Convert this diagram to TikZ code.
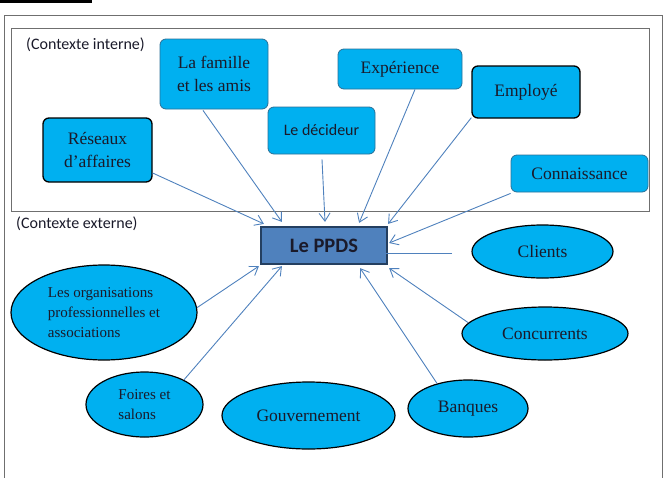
\documentclass[tikz,border=0pt]{standalone}
\usepackage{fontspec}
\setmainfont{Liberation Serif}
\newfontfamily\calib{Carlito}
\usetikzlibrary{arrows.meta,shapes.geometric}
\definecolor{cyanfill}{HTML}{00B0F0}
\definecolor{boxline}{HTML}{2B6F96}
\definecolor{ppdsfill}{HTML}{4F81BD}
\definecolor{ppdsline}{HTML}{243F60}
\definecolor{arrowc}{HTML}{4F81BD}
\definecolor{framec}{HTML}{6F6F6F}
\definecolor{txt}{HTML}{1A1A2A}
\tikzset{
  rbox/.style={draw=boxline, line width=0.8pt, fill=cyanfill, rounded corners=6pt,
    inner sep=0pt, align=center, text=txt, font=\fontsize{17.5}{23}\selectfont},
  rboxdark/.style={rbox, draw=black, line width=1.3pt},
  oval/.style={ellipse, draw=black, line width=1.2pt, fill=cyanfill, inner sep=0pt,
    text=txt, font=\fontsize{17.5}{21}\selectfont},
  ovalsmall/.style={oval, font=\fontsize{15}{20}\selectfont, align=left},
  arr/.style={draw=arrowc, line width=0.9pt, -{Straight Barb[length=8pt,width=11pt]}},
  frame/.style={draw=framec, line width=1pt},
  ctx/.style={font=\calib\fontsize{16}{19}\selectfont, inner sep=0pt, text=txt}
}
\begin{document}
\begin{tikzpicture}[x=1pt,y=-1pt]
\useasboundingbox (0,0) rectangle (664,477);
\clip (0,0) rectangle (664,477);
\fill[black] (0,0) rectangle (92,2.5);
% frames
\draw[frame] (4,15) rectangle (662,495);
\draw[frame] (11,28) rectangle (649,211);
% context labels
\node[ctx, anchor=west] (ci) at (26,45) {(Contexte interne)};
\node[ctx, anchor=west] (ce) at (16,224) {(Contexte externe)};
% inner boxes
\node[rbox, minimum width=108pt, minimum height=70pt] (fam) at (214,74) {La famille\\et les amis};
\node[rboxdark, minimum width=109pt, minimum height=64pt] (res) at (97.5,150) {Réseaux\\d’affaires};
\node[rbox, minimum width=107pt, minimum height=47pt, font=\calib\fontsize{16}{19}\selectfont] (dec) at (321.5,130.5) {Le décideur};
\node[rbox, minimum width=124pt, minimum height=40pt] (exp) at (400,69) {Expérience};
\node[rboxdark, minimum width=108pt, minimum height=52pt] (emp) at (526,92) {Employé};
\node[rbox, minimum width=137pt, minimum height=37pt] (con) at (579.5,173.5) {Connaissance};
% central
\node[draw=ppdsline, line width=2.2pt, fill=ppdsfill, minimum width=126pt, minimum height=37pt,
  inner sep=0pt, text=txt, font=\calib\bfseries\fontsize{20.5}{24}\selectfont] (ppds) at (324,245.5) {Le PPDS};
% ellipses
\node[ovalsmall, minimum width=186pt, minimum height=95pt] (org) at (104,312.5)
  {Les organisations\\professionnelles et\\associations};
\node[ovalsmall, minimum width=117pt, minimum height=65pt] (foi) at (144.5,404.5) {Foires et\\salons};
\node[oval, minimum width=173pt, minimum height=67pt] (gov) at (308.5,415.5) {Gouvernement};
\node[oval, minimum width=120pt, minimum height=57pt] (ban) at (468,408.5) {Banques};
\node[oval, minimum width=166pt, minimum height=53pt] (cnc) at (545,333.5) {Concurrents};
\node[oval, minimum width=141pt, minimum height=53pt] (cli) at (542.5,251.5) {Clients};
\coordinate (clistart) at (452,253);
% arrows
\draw[arr] ([shift={(0,23)}]res.east) -- ([shift={(4,-2)}]ppds.north west);
\draw[arr] ([shift={(-11,1)}]fam.south) -- ([shift={(22,-4)}]ppds.north west);
\draw[arr] ([shift={(0.5,5)}]dec.south) -- ([shift={(1,-4)}]ppds.north);
\draw[arr] ([shift={(15,0)}]exp.south) -- ([shift={(-29,-3)}]ppds.north east);
\draw[arr] ([shift={(0,-1)}]emp.south west) -- ([shift={(0,-2)}]ppds.north east);
\draw[arr] ([shift={(0,1)}]con.south west) -- ([shift={(1,-2.5)}]ppds.east);
\draw[arr] (clistart) -- ([shift={(-15,7.5)}]ppds.east);
\draw[arr] (cnc.172) -- ([shift={(1,3)}]ppds.south east);
\draw[arr] (ban.141) -- ([shift={(-28,3)}]ppds.south east);
\draw[arr] (org.3) -- ([shift={(-1,1)}]ppds.south west);
\draw[arr] (foi.32) -- ([shift={(22,1)}]ppds.south west);
\end{tikzpicture}
\end{document}
